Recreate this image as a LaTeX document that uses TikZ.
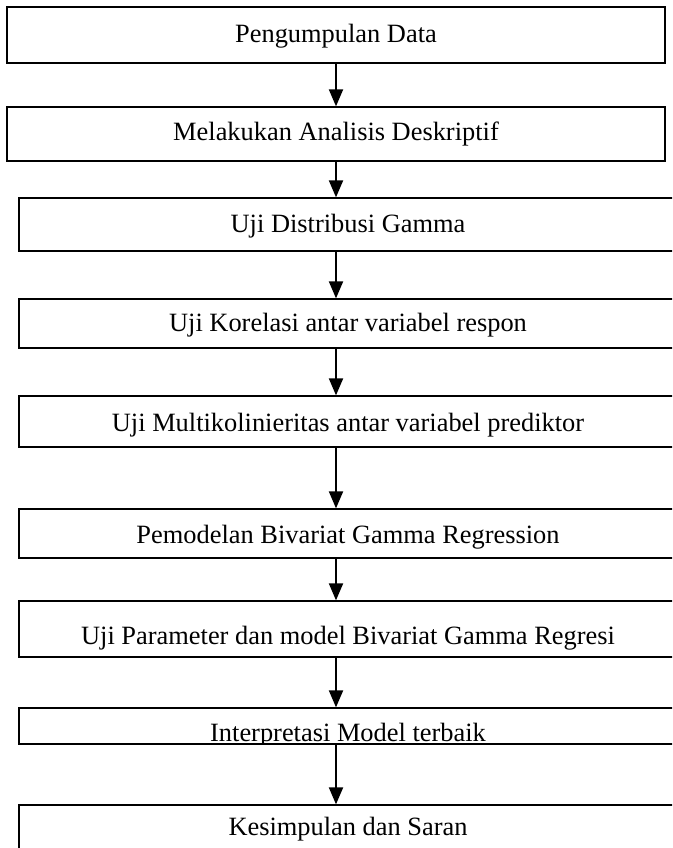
\documentclass[tikz,border=0pt]{standalone}
\usepackage{fontspec}
\setmainfont{Liberation Serif}
\usetikzlibrary{arrows.meta}
\begin{document}
\begin{tikzpicture}[x=1pt,y=-1pt,
  box/.style={draw=black, line width=1.3pt, fill=white, minimum width=658pt, inner sep=0pt,
              font=\fontsize{26.4}{30}\selectfont},
  flow/.style={line width=2pt, -{Triangle[length=17pt,width=14pt]}}]
\clip (0,0) rectangle (672,848);
\fill[white] (0,0) rectangle (672,848);

\node[box, minimum height=56pt, text height=23.7pt, text depth=8.3pt] (b1) at (336,35) {Pengumpulan Data};
\node[box, minimum height=54pt, text height=22.7pt, text depth=9.3pt] (b2) at (336,134) {Melakukan Analisis Deskriptif};
\node[box, minimum height=53pt, text height=24.2pt, text depth=7.8pt] (b3) at (348,224.5) {Uji Distribusi Gamma};
\node[box, minimum height=49pt, text height=24.2pt, text depth=7.8pt] (b4) at (348,323.5) {Uji Korelasi antar variabel respon};
\node[box, minimum height=51pt, text height=26.2pt, text depth=5.8pt] (b5) at (348,421.5) {Uji Multikolinieritas antar variabel prediktor};
\node[box, minimum height=49pt, text height=25.5pt, text depth=6.5pt] (b6) at (348,533.5) {Pemodelan Bivariat Gamma Regression};
\node[box, minimum height=56pt, text height=31pt, text depth=1pt] (b7) at (348,629) {Uji Parameter dan model Bivariat Gamma Regresi};
\node[box, minimum height=36pt,
  path picture={\node[anchor=base, inner sep=0pt, font=\fontsize{26.4}{30}\selectfont, yshift=-15.5pt] (t8) at (path picture bounding box.center) {Interpretasi Model terbaik};}] (b8) at (348,726) {};
\node[box, minimum height=54pt, text height=19pt, text depth=13pt] (b9) at (348,832) {Kesimpulan dan Saran};

\draw[flow] (b1.south) -- (b2.north);
\draw[flow] (b2.south) -- (b3.north -| b2.south);
\draw[flow] (b3.south -| b1.south) -- (b4.north -| b1.south);
\draw[flow] (b4.south -| b1.south) -- (b5.north -| b1.south);
\draw[flow] (b5.south -| b1.south) -- (b6.north -| b1.south);
\draw[flow] (b6.south -| b1.south) -- (b7.north -| b1.south);
\draw[flow] (b7.south -| b1.south) -- (b8.north -| b1.south);
\draw[flow] (b8.south -| b1.south) -- (b9.north -| b1.south);
\end{tikzpicture}
\end{document}
